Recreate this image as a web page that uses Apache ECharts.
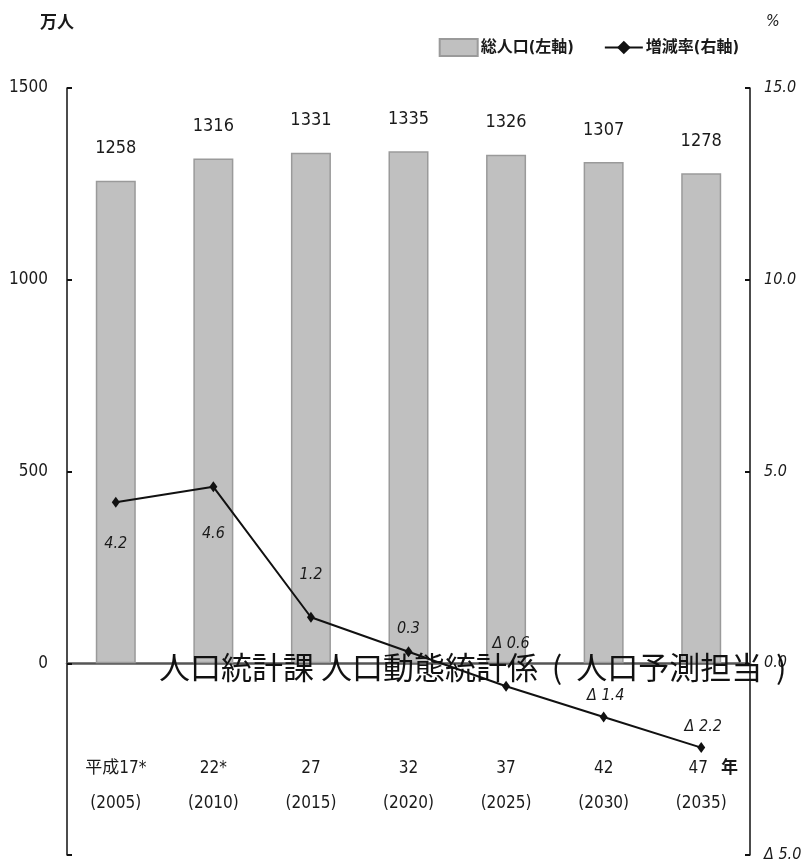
<!DOCTYPE html>
<html>
<head>
<meta charset="utf-8">
<script src="https://cdn.jsdelivr.net/npm/echarts@6/dist/echarts.min.js"></script>
<style>
html,body{margin:0;padding:0;background:#fff;}
#chart{width:810px;height:865px;}
</style>
</head>
<body>
<div id="chart"></div>
<script>
// ---- data ----
const eraLabels = ['平成17*', '22*', '27', '32', '37', '42', '47'];
const yearLabels = ['2005', '2010', '2015', '2020', '2025', '2030', '2035'];
const population = [1258, 1316, 1331, 1335, 1326, 1307, 1278];
const changeRate = [4.2, 4.6, 1.2, 0.3, -0.6, -1.4, -2.2];
const leftTicks = [-500, 0, 500, 1000, 1500];
const rightTicks = [-5, 0, 5, 10, 15];
const seriesNames = ['総人口(左軸)', '増減率(右軸)'];
const leftUnit = '万人';
const rightUnit = '%';
const yearSuffix = '年';
const watermark = '人口統計課 人口動態統計係  (  人口予測担当  )';

// ---- style ----
const NARROW = "'DejaVu Sans Condensed', 'Liberation Sans Narrow', 'Noto Sans CJK JP', sans-serif";
const TXT = '#1a1a1a';
// label placement for line labels: [position, distance, dx]
const rateLabelPlace = [
  ['bottom', 28, 0], ['bottom', 34, 0], ['top', 29, 0], ['top', 9, 0],
  ['top', 29, 5], ['top', 8, 2], ['top', 7, 2]
];

const categories = eraLabels.map((e, i) => e + '\n(' + yearLabels[i] + ')');
const fmtRate = v => (v < 0 ? 'Δ ' + Math.abs(v).toFixed(1) : v.toFixed(1));

const chart = echarts.init(document.getElementById('chart'), null, {renderer: 'canvas'});
chart.setOption({
  backgroundColor: '#fff',
  animation: false,
  textStyle: {fontFamily: NARROW, color: TXT},
  grid: {left: 67, right: 60, top: 88, bottom: 10, containLabel: false, outerBoundsMode: 'none'},
  legend: {
    top: 33, right: 66, itemGap: 30, itemWidth: 38, itemHeight: 17,
    textStyle: {fontFamily: NARROW, fontSize: 16, fontWeight: 'bold', color: TXT, padding: [3, 0, 0, -2]},
    data: [
      {name: seriesNames[0], icon: 'rect'},
      {name: seriesNames[1]}
    ]
  },
  xAxis: [
    {
      type: 'category',
      data: categories,
      axisLine: {onZero: true, lineStyle: {color: '#555', width: 2.5}},
      axisTick: {show: false},
      axisLabel: {show: false},
      splitLine: {show: false}
    },
    {
      type: 'category',
      position: 'bottom',
      data: categories,
      axisLine: {show: false, onZero: false},
      axisTick: {show: false},
      axisLabel: {
        show: true, inside: true,
        interval: 0, margin: 34, fontSize: 17, lineHeight: 35, color: TXT, fontFamily: NARROW,
        formatter: (v, i) => i === categories.length - 1
          ? '{a|' + eraLabels[i] + '}{b|' + yearSuffix + '}\n(' + yearLabels[i] + ')'
          : v,
        rich: {
          a: {fontSize: 17, fontFamily: NARROW, color: TXT, padding: [0, 0, 0, 24]},
          b: {fontSize: 17, fontFamily: NARROW, fontWeight: 'bold', color: TXT, padding: [0, 0, 0, 13]}
        }
      },
      splitLine: {show: false}
    }
  ],
  yAxis: [
    {
      type: 'value', min: leftTicks[0], max: leftTicks[leftTicks.length - 1], interval: 500,
      name: leftUnit, nameLocation: 'end', nameGap: 56,
      nameTextStyle: {fontSize: 17, fontWeight: 'bold', color: TXT, fontFamily: NARROW, align: 'center', padding: [0, 20, 0, 0]},
      axisLine: {show: true, onZero: false, lineStyle: {color: '#111', width: 1.5}},
      axisTick: {show: true, inside: true, length: 5, lineStyle: {color: '#111', width: 2}},
      axisLabel: {fontSize: 17, color: TXT, margin: 19, fontFamily: NARROW,
        formatter: v => v < 0 ? '' : String(v)},
      splitLine: {show: false}
    },
    {
      type: 'value', min: rightTicks[0], max: rightTicks[rightTicks.length - 1], interval: 5,
      position: 'right',
      name: rightUnit, nameLocation: 'end', nameGap: 58,
      nameTextStyle: {fontSize: 16, fontStyle: 'italic', color: TXT, fontFamily: NARROW, align: 'left', padding: [0, 0, 0, 16]},
      axisLine: {show: true, onZero: false, lineStyle: {color: '#111', width: 1.5}},
      axisTick: {show: true, inside: true, length: 5, lineStyle: {color: '#111', width: 2}},
      axisLabel: {fontSize: 16, fontStyle: 'italic', color: TXT, margin: 14, fontFamily: NARROW,
        verticalAlign: 'middle',
        formatter: v => fmtRate(v)},
      splitLine: {show: false}
    }
  ],
  series: [
    {
      name: seriesNames[0], type: 'bar', xAxisIndex: 0, yAxisIndex: 0, data: population, barWidth: 40,
      itemStyle: {color: '#c0c0c0', borderColor: '#9a9a9a', borderWidth: 1.5},
      label: {show: true, position: 'top', distance: 23, fontSize: 18, color: TXT, fontFamily: NARROW}
    },
    {
      name: seriesNames[1], type: 'line', xAxisIndex: 0, yAxisIndex: 1, z: 5,
      data: changeRate.map((v, i) => ({
        value: v,
        label: {position: rateLabelPlace[i][0], distance: rateLabelPlace[i][1], offset: [rateLabelPlace[i][2], 0]}
      })),
      symbol: 'diamond', symbolSize: [8, 11], showSymbol: true,
      lineStyle: {color: '#111', width: 2}, itemStyle: {color: '#111'},
      label: {show: true, fontSize: 16, fontStyle: 'italic', color: TXT, fontFamily: NARROW,
        formatter: p => fmtRate(p.value)}
    }
  ],
  graphic: [
    {type: 'text', left: 159, top: 652, z: 100,
     style: {text: watermark, fontSize: 31, fill: '#111', fontFamily: "'Noto Sans CJK JP', sans-serif"}}
  ]
});
</script>
</body>
</html>
